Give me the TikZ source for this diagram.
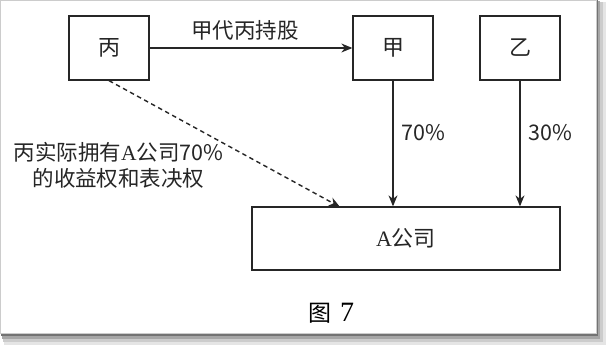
\documentclass[tikz,border=0pt]{standalone}
\usepackage{fontspec}
\setmainfont{Noto Sans CJK SC}
\newfontfamily\serifl{Liberation Serif}
\usetikzlibrary{arrows.meta}
\begin{document}
\begin{tikzpicture}[x=1pt,y=-1pt,
  box/.style={draw=black!85, line width=1.3pt, minimum width=80pt, minimum height=64pt, inner sep=0pt, font=\fontsize{22}{26}\selectfont, text=black!85},
  conn/.style={draw=black!85, line width=1.2pt, -{Stealth[length=11pt,width=9pt]}},
  lbl/.style={font=\fontsize{21.5}{26}\selectfont, text=black!85, inner sep=0pt},
]
\useasboundingbox (0,0) rectangle (606,345);
% frame with shadow
\fill[black!10] (4,2) rectangle (606,345);
\fill[black!20] (3,2) rectangle (603,342);
\fill[black!35] (2,1) rectangle (600,339);
\fill[black!55] (1,0) rectangle (598,336);
\fill[white, draw=black!20, line width=0.8pt] (0.5,0.5) rectangle (596,333);

% nodes
\node[box] (bing) at (109,48) {丙};
\node[box] (jia) at (393,48) {甲};
\node[box] (yi) at (520,48) {乙};
\node[box, minimum width=308pt, minimum height=63pt] (A) at (406,238.5) {{\serifl A}公司};

% connectors
\draw[conn] (bing) -- (jia);
\node[lbl] (lhold) at (245,30) {甲代丙持股};
\draw[conn] (jia.south) -- (jia.south |- A.north);
\draw[conn] (yi.south) -- (yi.south |- A.north);
\node[lbl] (l70) at (423,133) {70\%};
\node[lbl] (l30) at (550,133) {30\%};
\coordinate (dtip) at (340,207);
\draw[conn, line width=1.4pt, dash pattern=on 4.5pt off 3.5pt] (bing.south) -- (dtip);
\node[lbl, align=center] (lreal) at (118.5,165) {丙实际拥有{\serifl A}公司70\%\\的收益权和表决权};

% caption
\node[font=\fontsize{23}{26}\selectfont, text=black, inner sep=0pt] (cap) at (331,313) {图\hspace{9pt}{\serifl\fontsize{28}{30}\selectfont 7}};
\end{tikzpicture}
\end{document}
